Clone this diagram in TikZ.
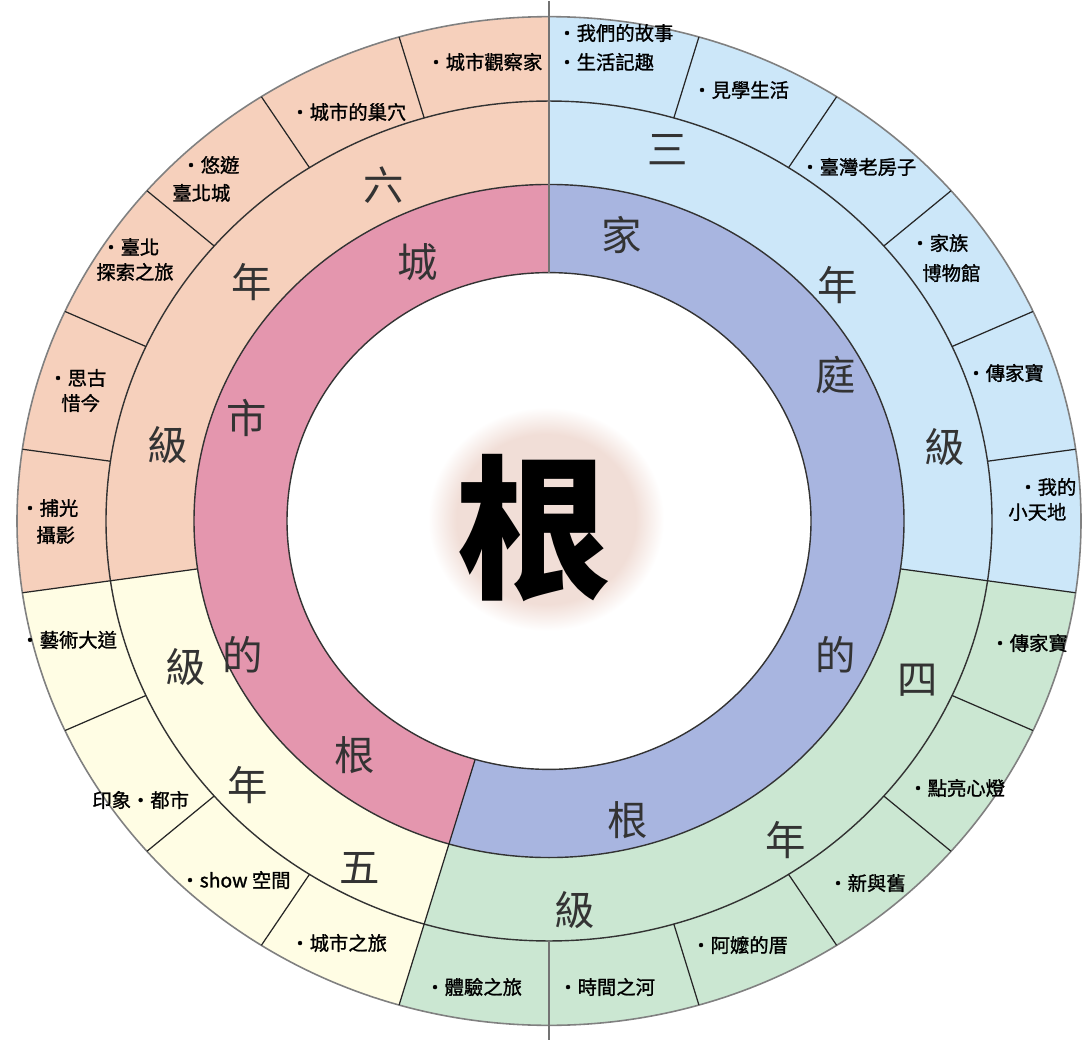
\documentclass[tikz,border=0pt]{standalone}
\usepackage{fontspec}
\setmainfont{Noto Sans CJK TC}
\newfontfamily\cjk{Noto Sans CJK TC}
\newfontfamily\cjkheavy[FakeBold=1.2]{Noto Sans CJK TC}
\definecolor{peach}{RGB}{246,208,188}
\definecolor{pinkr}{RGB}{228,150,174}
\definecolor{lblue}{RGB}{204,231,249}
\definecolor{iblue}{RGB}{168,181,224}
\definecolor{lgreen}{RGB}{203,231,210}
\definecolor{cream}{RGB}{255,253,228}
\definecolor{blobc}{RGB}{241,222,215}
\pgfdeclareradialshading{blobshade}{\pgfpoint{0bp}{0bp}}{%
  color(0bp)=(blobc); color(19bp)=(blobc);
  color(25bp)=(white); color(50bp)=(white)}
\newcommand\annsec[5]{%
  \fill[#1] (#2:#4) arc[start angle=#2, end angle=#3, radius=#4]
    -- (#3:#5) arc[start angle=#3, end angle=#2, radius=#5] -- cycle;}
\begin{document}
\begin{tikzpicture}[x=0.02cm,y=-0.02cm,
  small/.style={font=\cjkheavy\fontsize{11}{13}\selectfont, inner sep=0pt, anchor=west, text=black},
  big/.style={font=\cjk\fontsize{23}{26}\selectfont, inner sep=0pt, text=black!80},
  ring/.style={line width=0.8pt, draw=black!80},
  spoke/.style={line width=0.7pt, draw=black!85},
  axisline/.style={line width=0.9pt, draw=black!55},
  ]
\useasboundingbox (0,0) rectangle (1084,1040);
\fill[white] (0,0) rectangle (1084,1040);
\def\Ra{262}\def\Rb{355}\def\Rc{443}\def\Rd{532}
\pgfmathsetmacro\seg{360/22}
\begin{scope}[shift={(549,521)}, yscale=-0.948]
  % sectors of middle + outer rings
  \annsec{lblue}{-8.181818}{90}{\Rb}{\Rd}
  \annsec{lgreen}{-106.363636}{-8.181818}{\Rb}{\Rd}
  \annsec{cream}{-171.818182}{-106.363636}{\Rb}{\Rd}
  \annsec{peach}{90}{188.181818}{\Rb}{\Rd}
  % inner ring
  \annsec{iblue}{-106.363636}{90}{\Ra}{\Rb}
  \annsec{pinkr}{90}{253.636364}{\Ra}{\Rb}
  % white centre
  \fill[white] (0,0) circle[radius=\Ra];
  \shade[shading=blobshade] (-3,2) circle[radius=118];
  % rings
  \draw[line width=0.9pt, draw=black!50] (0,0) circle[radius=\Rd];
  \draw[ring] (0,0) circle[radius=\Rc];
  \draw[ring] (0,0) circle[radius=\Rb];
  \draw[ring] (0,0) circle[radius=\Ra];
  % spokes in outer ring
  \foreach \k in {1,...,10,12,13,...,21}{
    \draw[spoke] ({90-\k*\seg}:\Rc) -- ({90-\k*\seg}:\Rd);
  }
  % year boundaries
  \foreach \k in {6,12,16}{
    \draw[spoke] ({90-\k*\seg}:\Rb) -- ({90-\k*\seg}:\Rc);
  }
  \draw[spoke] ({90-12*\seg}:\Ra) -- ({90-12*\seg}:\Rb);
  % vertical axis
  \draw[axisline] (90:\Ra) -- (90:549);
  \draw[axisline] (-90:\Rc) -- (-90:548);
\end{scope}

% centre character
\node[font=\cjk\fontsize{88}{88}\selectfont\bfseries, inner sep=0pt] (gen) at (534,528) {根};

% inner ring characters
\node[big] (c1) at (418,262) {城};
\node[big] (c2) at (247,418) {市};
\node[big] (c3) at (243,655) {的};
\node[big] (c4) at (355,755) {根};
\node[big] (f1) at (622,235) {家};
\node[big] (f2) at (836,375) {庭};
\node[big] (f3) at (836,655) {的};
\node[big] (f4) at (628,820) {根};

% middle ring characters
\node[big] (g3a) at (668,150) {三};
\node[big] (g3b) at (838,285) {年};
\node[big] (g3c) at (945,447) {級};
\node[big] (g4a) at (918,680) {四};
\node[big] (g4b) at (786,840) {年};
\node[big] (g4c) at (575,910) {級};
\node[big] (g5a) at (360,868) {五};
\node[big] (g5b) at (248,785) {年};
\node[big] (g5c) at (186,667) {級};
\node[big] (g6a) at (384,185) {六};
\node[big] (g6b) at (252,282) {年};
\node[big] (g6c) at (168,445) {級};

% outer labels: grade 3
\node[small] (l1) at (557,33) {・我們的故事};
\node[small] (l2) at (557,62) {・生活記趣};
\node[small] (l3) at (692,90) {・見學生活};
\node[small] (l4) at (800,167) {・臺灣老房子};
\node[small] (l5a) at (910,243) {・家族};
\node[small] (l5b) at (922,273) {博物館};
\node[small] (l6) at (966,373) {・傳家寶};
\node[small] (l7a) at (1018,487) {・我的};
\node[small] (l7b) at (1008,512) {小天地};
% grade 4
\node[small] (l8) at (990,643) {・傳家寶};
\node[small] (l9) at (908,788) {・點亮心燈};
\node[small] (l10) at (828,883) {・新與舊};
\node[small] (l11) at (691,945) {・阿嬤的厝};
\node[small] (l12) at (558,987) {・時間之河};
\node[small] (l13) at (425,987) {・體驗之旅};
% grade 5
\node[small] (l14) at (290,943) {・城市之旅};
\node[small] (l15) at (180,880) {・show 空間};
\node[small] (l16) at (92,800) {印象・都市};
\node[small] (l17) at (20,640) {・藝術大道};
% grade 6
\node[small] (l18a) at (20,508) {・捕光};
\node[small] (l18b) at (36,535) {攝影};
\node[small] (l19a) at (48,378) {・思古};
\node[small] (l19b) at (61,403) {惜今};
\node[small] (l20a) at (101,247) {・臺北};
\node[small] (l20b) at (96,272) {探索之旅};
\node[small] (l21a) at (181,165) {・悠遊};
\node[small] (l21b) at (172,193) {臺北城};
\node[small] (l22) at (290,112) {・城市的巢穴};
\node[small] (l23) at (426,62) {・城市觀察家};
\end{tikzpicture}
\end{document}
